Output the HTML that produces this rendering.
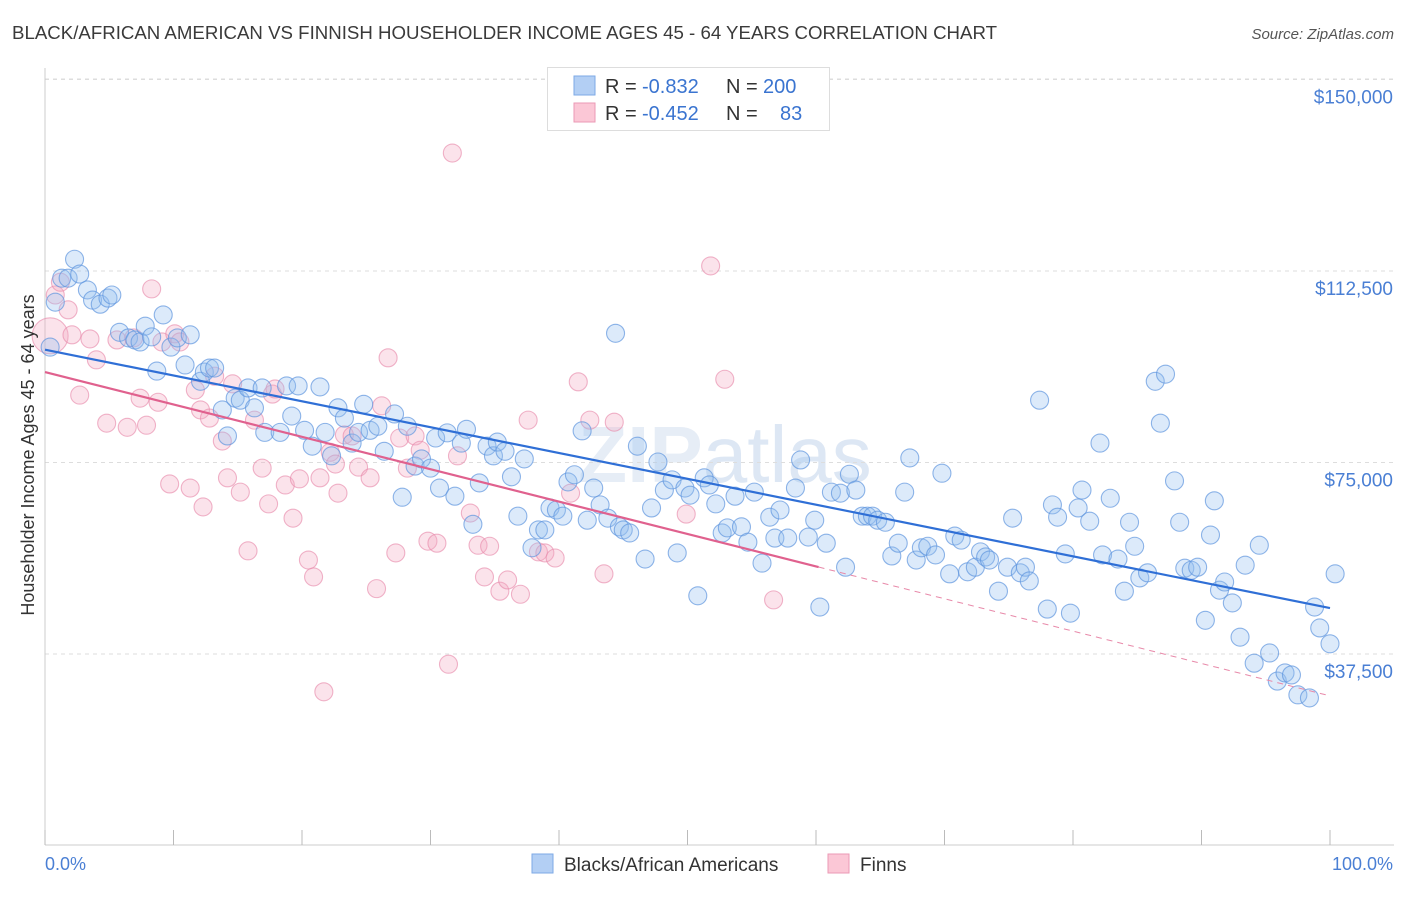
<!DOCTYPE html>
<html><head><meta charset="utf-8"><style>
body{margin:0;background:#fff;font-family:"Liberation Sans",sans-serif;}
svg text{font-family:"Liberation Sans",sans-serif;}
</style></head><body>
<svg id="chart" width="1406" height="892" xmlns="http://www.w3.org/2000/svg">
<text x="12" y="39" font-size="18" fill="#3a3a3a" textLength="985" lengthAdjust="spacingAndGlyphs">BLACK/AFRICAN AMERICAN VS FINNISH HOUSEHOLDER INCOME AGES 45 - 64 YEARS CORRELATION CHART</text>
<text x="1394" y="39" font-size="15" fill="#555" font-style="italic" text-anchor="end">Source: ZipAtlas.com</text>
<text x="725" y="482" font-size="80" fill="#e6edf6" text-anchor="middle" font-weight="bold">ZIP<tspan font-weight="normal" fill="#dde7f4">atlas</tspan></text>
<g id="grid"></g>
<g id="axes"></g>
<g id="pts"></g>
<g id="trends"></g>
<text x="34" y="455" font-size="18" fill="#333" text-anchor="middle" transform="rotate(-90 34 455)">Householder Income Ages 45 - 64 years</text>
<text x="45" y="870" font-size="18" fill="#4a7fd4">0.0%</text>
<text x="1393" y="870" font-size="18" fill="#4a7fd4" text-anchor="end">100.0%</text>
<g>
<rect x="547.5" y="67.5" width="282" height="63" fill="#fff" stroke="#ddd"/>
<rect x="574" y="76" width="21" height="19" fill="#b3cff4" stroke="#7eaae6"/>
<rect x="574" y="103" width="21" height="19" fill="#fbc7d6" stroke="#eb9ab5"/>
<text x="605" y="93" font-size="20" fill="#333">R = <tspan x="642" fill="#3a74d0">-0.832</tspan><tspan x="726">N = </tspan><tspan x="763" fill="#3a74d0">200</tspan></text>
<text x="605" y="120" font-size="20" fill="#333">R = <tspan x="642" fill="#3a74d0">-0.452</tspan><tspan x="726">N = </tspan><tspan x="780" fill="#3a74d0">83</tspan></text>
</g>
<g>
<rect x="532" y="854" width="21" height="19" fill="#b3cff4" stroke="#7eaae6"/>
<text x="564" y="871" font-size="19" fill="#333">Blacks/African Americans</text>
<rect x="828" y="854" width="21" height="19" fill="#fbc7d6" stroke="#eb9ab5"/>
<text x="860" y="871" font-size="19" fill="#333">Finns</text>
</g>
</svg>
<script>
const yTicks=[37500,75000,112500,150000];
const yTickLabels=["$37,500","$75,000","$112,500","$150,000"];
const xTicks=[0,10,20,30,40,50,60,70,80,90,100];
const blueX=[0.4,1.3,1.8,2.3,2.7,0.8,3.3,3.7,4.3,4.9,5.2,5.8,6.5,7.0,7.4,7.8,8.3,8.7,9.2,9.8,10.3,11.3,10.9,12.1,12.4,12.8,13.2,13.8,14.2,14.8,15.2,15.8,16.3,16.9,17.1,18.3,18.8,19.2,19.7,20.2,20.8,21.4,21.8,22.3,22.8,23.3,23.9,24.4,24.8,25.3,25.9,26.4,27.2,27.8,28.2,28.8,29.3,30.0,30.4,30.7,31.3,31.9,32.4,32.8,33.3,33.8,34.4,34.9,35.2,35.8,36.3,36.8,37.3,37.9,38.4,38.9,39.3,39.8,40.3,40.7,41.2,41.8,42.2,42.7,43.2,43.8,44.4,44.7,45.0,45.5,46.1,46.7,47.2,47.7,48.2,48.8,49.2,49.8,50.2,50.8,51.3,51.7,52.2,52.7,53.1,53.7,54.2,54.7,55.2,55.8,56.4,56.8,57.2,57.8,58.4,58.8,59.4,59.9,60.3,60.8,61.2,61.9,62.3,62.6,63.1,63.6,64.0,64.4,64.8,65.4,65.9,66.4,66.9,67.3,67.8,68.2,68.7,69.3,69.8,70.4,70.8,71.3,71.8,72.4,72.8,73.2,73.5,74.2,74.9,75.3,75.9,76.3,76.6,77.4,78.0,78.4,78.8,79.4,79.8,80.4,80.7,81.3,82.1,82.3,82.9,83.5,84.0,84.4,84.8,85.2,85.8,86.4,86.8,87.2,87.9,88.3,88.7,89.2,89.7,90.3,90.7,91.0,91.4,91.8,92.4,93.0,93.4,94.1,94.5,95.3,95.9,96.5,97.0,97.5,98.4,98.8,99.2,100,100.4];
const blueY=[97.6,111.1,111.1,114.8,111.9,106.4,108.8,106.8,106.0,107.2,107.8,100.5,99.4,99.0,98.6,101.7,99.6,92.9,103.9,97.6,99.4,100.0,94.1,90.9,92.7,93.5,93.5,85.3,80.2,87.6,87.2,89.6,85.7,89.6,80.9,80.9,90.0,84.1,90.0,81.3,78.2,89.8,80.9,76.3,85.7,83.7,78.8,80.9,86.4,81.3,82.1,77.2,84.5,68.2,82.1,74.3,75.7,73.9,79.8,70.0,80.8,68.4,78.8,81.5,62.9,71.0,78.2,76.3,79.0,77.2,72.2,64.5,75.7,58.3,61.8,61.8,66.1,65.7,64.5,71.2,72.6,81.2,63.7,70.0,66.7,64.1,100.3,62.4,61.8,61.2,78.2,56.1,66.1,75.1,69.6,71.6,57.3,70.0,68.6,48.9,72.0,70.6,66.9,61.2,62.2,68.4,62.4,59.4,69.2,55.3,64.3,60.2,65.7,60.2,70.0,75.5,60.4,63.7,46.7,59.2,69.2,69.0,54.5,72.7,69.6,64.5,64.5,64.5,63.7,63.3,56.7,59.2,69.2,75.9,55.9,58.3,58.6,56.9,72.9,53.2,60.6,59.8,53.6,54.5,57.5,56.5,55.9,49.8,54.5,64.1,53.4,54.5,51.8,87.2,46.3,66.7,64.3,57.1,45.5,66.1,69.6,63.5,78.8,56.9,68.0,56.1,49.8,63.3,58.6,52.4,53.4,90.9,82.7,92.3,71.4,63.3,54.3,53.9,54.5,44.1,60.8,67.5,50.0,51.6,47.5,40.8,54.9,35.7,58.8,37.7,32.2,33.8,33.4,29.5,28.9,46.7,42.6,39.5,53.2];
const pinkX=[0.4,0.8,1.2,1.8,2.1,2.7,3.5,4.0,4.8,5.6,6.4,6.9,7.4,7.9,8.3,8.8,9.1,9.7,10.1,10.5,11.3,11.7,12.1,12.3,12.8,13.2,13.8,14.2,14.6,15.2,15.8,16.3,16.9,17.4,17.7,17.9,18.7,19.3,19.8,20.5,20.9,21.4,21.7,22.2,22.6,22.8,23.3,23.9,24.4,25.3,25.8,26.2,26.7,27.3,27.6,28.2,28.8,29.2,29.8,30.5,31.4,31.7,32.1,33.1,33.7,34.2,34.6,35.4,36.0,37.0,37.6,38.4,38.9,39.7,40.9,41.5,42.4,43.5,44.3,49.9,51.8,52.9,56.7];
const pinkY=[99.8,107.8,110.3,104.9,100.0,88.2,99.2,95.1,82.7,99.0,81.9,99.4,87.6,82.3,109.0,86.8,98.6,70.8,100.2,98.6,70.0,89.2,85.3,66.3,83.7,91.9,79.2,72.0,90.4,69.2,57.7,83.3,73.9,66.9,88.4,89.4,70.6,64.1,71.8,55.9,52.6,72.0,30.1,77.0,74.7,69.0,80.4,80.2,74.1,72.0,50.3,86.1,95.5,57.3,79.8,73.9,80.2,77.4,59.6,59.2,35.5,135.6,76.3,65.1,58.8,52.6,58.6,49.8,52.0,49.2,83.3,57.5,57.3,56.3,69.0,90.8,83.3,53.2,82.9,64.9,113.5,91.3,48.1];
const blueTrend=[97.1,-0.506];
const pinkTrend=[92.7,-0.634];
const pinkSolidEnd=60.2;

const NS="http://www.w3.org/2000/svg";
const X0=45,X1=1330,YB=845.5,PX_PER_K=191.5/37.5;
function sx(v){return X0+(X1-X0)*v/100;}
function sy(k){return YB-k*PX_PER_K;}
function mk(tag,attrs,parent){const e=document.createElementNS(NS,tag);for(const k in attrs)e.setAttribute(k,attrs[k]);parent.appendChild(e);return e;}
const grid=document.getElementById('grid'),axes=document.getElementById('axes'),pts=document.getElementById('pts'),tr=document.getElementById('trends');
yTicks.forEach((t,i)=>{const y=sy(t/1000);
 const l=mk('line',{x1:X0,x2:1394,y1:y,y2:y,stroke:'#ddd','stroke-dasharray':'4,4'},grid);
 
 
 const tx=mk('text',{x:1393,y:y+24,'font-size':19,fill:'#4a7fd4','text-anchor':'end'},grid);
 tx.textContent=yTickLabels[i];
 
 
});
{const l=mk('line',{x1:X0,x2:1394,y1:79,y2:79,stroke:'#ddd','stroke-dasharray':'4,4'},grid);

}
{const a=mk('line',{x1:X0,x2:X0,y1:68,y2:845,stroke:'#ccc'},axes);


const b=mk('line',{x1:X0,x2:1394,y1:845,y2:845,stroke:'#ccc'},axes);

}
xTicks.forEach(t=>{const x=sx(t);
 const l=mk('line',{x1:x,x2:x,y1:830,y2:845,stroke:'#bbb'},axes);
 
 
});
pinkX.forEach((v,i)=>{
 const c=mk('circle',{cx:sx(v),cy:sy(pinkY[i]),r:i===0?18:9,fill:'rgba(244,170,195,0.33)',stroke:'rgba(232,140,172,0.65)','stroke-width':1.1},pts);
 
 
});
blueX.forEach((v,i)=>{
 const c=mk('circle',{cx:sx(v),cy:sy(blueY[i]),r:9,fill:'rgba(150,190,240,0.33)',stroke:'rgba(95,150,222,0.7)','stroke-width':1.1},pts);
 
 
});
function ty(t,x){return t[0]+t[1]*x;}
{const l=mk('line',{x1:sx(0),y1:sy(ty(blueTrend,0)),x2:sx(100),y2:sy(ty(blueTrend,100)),stroke:'#2f6fd6','stroke-width':2.2},tr);


const p=mk('line',{x1:sx(0),y1:sy(ty(pinkTrend,0)),x2:sx(pinkSolidEnd),y2:sy(ty(pinkTrend,pinkSolidEnd)),stroke:'#e0618e','stroke-width':2.2},tr);


const d=mk('line',{x1:sx(pinkSolidEnd),y1:sy(ty(pinkTrend,pinkSolidEnd)),x2:sx(100),y2:sy(ty(pinkTrend,100)),stroke:'#e88aaa','stroke-width':1,'stroke-dasharray':'6,5'},tr);

}
</script>
</body></html>
